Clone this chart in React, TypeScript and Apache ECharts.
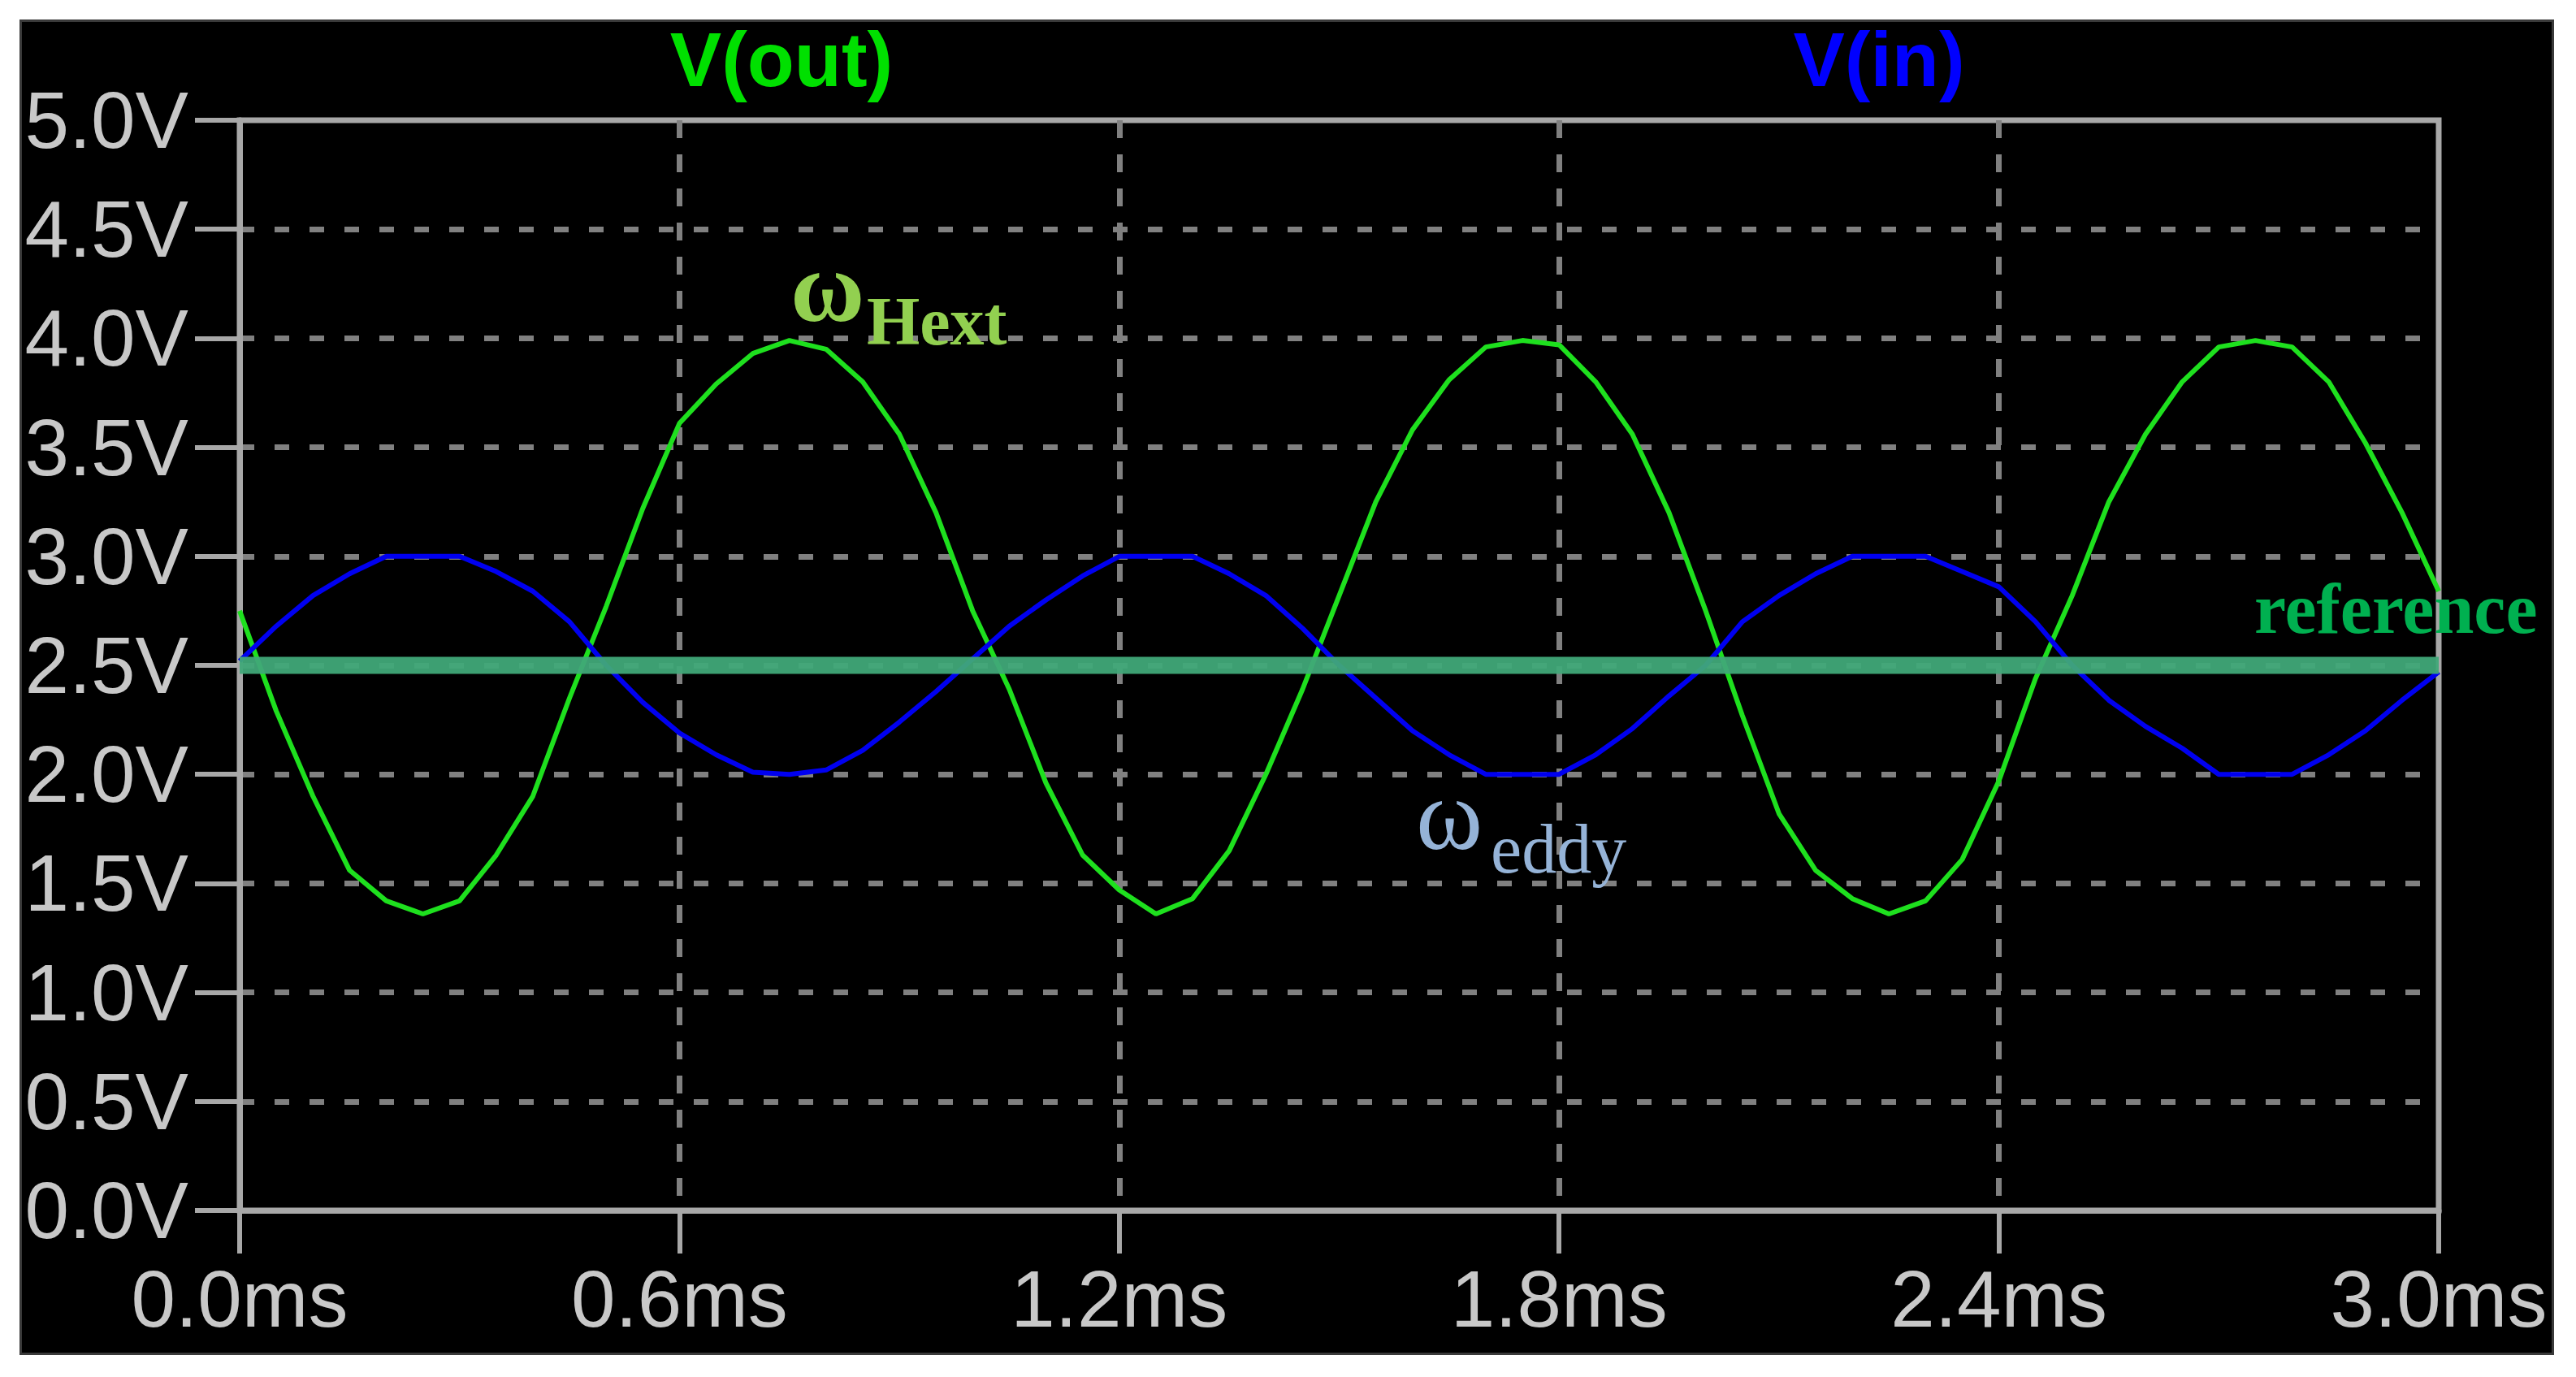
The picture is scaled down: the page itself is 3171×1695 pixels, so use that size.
import React, { useEffect, useRef } from "react";
import * as echarts from "echarts";

// Time axis (ms)
const timeMs = [
  0.0, 0.05, 0.1, 0.15, 0.2, 0.25, 0.3, 0.35, 0.4, 0.45,
  0.5, 0.55, 0.6, 0.65, 0.7, 0.75, 0.8, 0.85, 0.9, 0.95,
  1.0, 1.05, 1.1, 1.15, 1.2, 1.25, 1.3, 1.35, 1.4, 1.45,
  1.5, 1.55, 1.6, 1.65, 1.7, 1.75, 1.8, 1.85, 1.9, 1.95,
  2.0, 2.05, 2.1, 2.15, 2.2, 2.25, 2.3, 2.35, 2.4, 2.45,
  2.5, 2.55, 2.6, 2.65, 2.7, 2.75, 2.8, 2.85, 2.9, 2.95,
  3.0,
];

// V(in) – blue trace (V)
const vIn = [
  2.52, 2.68, 2.82, 2.92, 3.0, 3.0, 3.0, 2.93, 2.84, 2.7,
  2.5, 2.33, 2.19, 2.09, 2.01, 2.0, 2.02, 2.11, 2.24, 2.38,
  2.53, 2.68, 2.8, 2.91, 3.0, 3.0, 3.0, 2.92, 2.82, 2.67,
  2.5, 2.35, 2.2, 2.09, 2.0, 2.0, 2.0, 2.09, 2.21, 2.36,
  2.5, 2.7, 2.82, 2.92, 3.0, 3.0, 3.0, 2.93, 2.86, 2.7,
  2.5, 2.34, 2.22, 2.12, 2.0, 2.0, 2.0, 2.09, 2.2, 2.34,
  2.47,
];

// V(out) – green trace (V)
const vOut = [
  2.75, 2.29, 1.9, 1.56, 1.42, 1.36, 1.42, 1.63, 1.9, 2.35,
  2.77, 3.22, 3.61, 3.79, 3.93, 3.99, 3.95, 3.8, 3.56, 3.2,
  2.75, 2.39, 1.96, 1.63, 1.47, 1.36, 1.43, 1.65, 2.0, 2.39,
  2.82, 3.25, 3.58, 3.81, 3.96, 3.99, 3.97, 3.8, 3.56, 3.2,
  2.75, 2.27, 1.82, 1.56, 1.43, 1.36, 1.42, 1.61, 1.97, 2.44,
  2.82, 3.25, 3.56, 3.8, 3.96, 3.99, 3.96, 3.8, 3.52, 3.2,
  2.84,
];

// Reference level (V) and its time span (ms)
const referenceLevel = 2.5;
const referenceSpan = [0.0, 3.0];

const seriesNames = ["V(out)", "V(in)"];

const W = 3171;
const H = 1695;

export default function App() {
  const ref = useRef<HTMLDivElement | null>(null);

  useEffect(() => {
    if (!ref.current) return;
    const chart = echarts.init(ref.current, undefined, { renderer: "svg" });

    const outData = timeMs.map((t, i) => [t, vOut[i]]);
    const inData = timeMs.map((t, i) => [t, vIn[i]]);
    const refData = referenceSpan.map((t) => [t, referenceLevel]);

    const axisColor = "#a8a8a8";
    const gridColor = "#808080";
    const labelColor = "#c8c8c8";

    chart.setOption({
      animation: false,
      backgroundColor: "transparent",
      grid: {
        left: 295,
        right: W - 3002,
        top: 148,
        bottom: H - 1490,
        show: true,
        borderColor: axisColor,
        borderWidth: 7,
        backgroundColor: "transparent",
      },
      xAxis: {
        type: "value",
        min: 0,
        max: 3,
        interval: 0.6,
        axisLine: { show: true, onZero: false, lineStyle: { color: axisColor, width: 7 } },
        axisTick: { show: true, length: 53, lineStyle: { color: axisColor, width: 6 } },
        axisLabel: {
          formatter: (v: number) => v.toFixed(1) + "ms",
          color: labelColor,
          fontSize: 98,
          fontFamily: "Liberation Sans",
          margin: 60,
        },
        splitLine: {
          show: true,
          showMinLine: false,
          showMaxLine: false,
          lineStyle: { color: gridColor, width: 7, type: [22, 20] },
        },
      },
      yAxis: {
        type: "value",
        min: 0,
        max: 5,
        interval: 0.5,
        axisLine: { show: true, onZero: false, lineStyle: { color: axisColor, width: 7 } },
        axisTick: { show: true, length: 55, lineStyle: { color: axisColor, width: 6 } },
        axisLabel: {
          formatter: (v: number) => v.toFixed(1) + "V",
          color: labelColor,
          fontSize: 98,
          fontFamily: "Liberation Sans",
          margin: 63,
        },
        splitLine: {
          show: true,
          showMinLine: false,
          showMaxLine: false,
          lineStyle: { color: gridColor, width: 7, type: [18, 25] },
        },
      },
      series: [
        {
          name: seriesNames[0],
          type: "line",
          data: outData,
          showSymbol: false,
          symbol: "none",
          lineStyle: { color: "#1ee01e", width: 6 },
          z: 3,
        },
        {
          name: seriesNames[1],
          type: "line",
          data: inData,
          showSymbol: false,
          symbol: "none",
          lineStyle: { color: "#0000f0", width: 6 },
          z: 3,
        },
        {
          name: "reference",
          type: "line",
          data: refData,
          showSymbol: false,
          symbol: "none",
          lineStyle: { color: "#40a878", width: 21, opacity: 0.95 },
          z: 4,
        },
      ],
      graphic: [
        {
          type: "text",
          x: 962,
          y: 73,
          z: 100,
          style: {
            text: seriesNames[0],
            fill: "#00e000",
            fontSize: 95,
            fontWeight: "bold",
            fontFamily: "Liberation Sans",
            align: "center",
            verticalAlign: "middle",
          },
        },
        {
          type: "text",
          x: 2313,
          y: 73,
          z: 100,
          style: {
            text: seriesNames[1],
            fill: "#0000ff",
            fontSize: 95,
            fontWeight: "bold",
            fontFamily: "Liberation Sans",
            align: "center",
            verticalAlign: "middle",
          },
        },
        {
          type: "text",
          x: 973,
          y: 353,
          z: 100,
          style: {
            text: "ω",
            fill: "#92d050",
            fontSize: 125,
            fontWeight: "bold",
            fontFamily: "Liberation Serif",
            align: "left",
            verticalAlign: "middle",
          },
        },
        {
          type: "text",
          x: 1067,
          y: 395,
          z: 100,
          style: {
            text: "Hext",
            fill: "#92d050",
            fontSize: 84,
            fontWeight: "bold",
            fontFamily: "Liberation Serif",
            align: "left",
            verticalAlign: "middle",
          },
        },
        {
          type: "text",
          x: 1743,
          y: 1003,
          z: 100,
          style: {
            text: "ω",
            fill: "#95b3d7",
            fontSize: 125,
            fontFamily: "Liberation Serif",
            align: "left",
            verticalAlign: "middle",
          },
        },
        {
          type: "text",
          x: 1835,
          y: 1045,
          z: 100,
          style: {
            text: "eddy",
            fill: "#95b3d7",
            fontSize: 86,
            fontFamily: "Liberation Serif",
            align: "left",
            verticalAlign: "middle",
          },
        },
        {
          type: "text",
          x: 2775,
          y: 749,
          z: 100,
          style: {
            text: "reference",
            fill: "#00b050",
            fontSize: 88,
            fontWeight: "bold",
            fontFamily: "Liberation Serif",
            align: "left",
            verticalAlign: "middle",
          },
        },
      ],
    });

    return () => {
      chart.dispose();
    };
  }, []);

  return (
    <div
      style={{
        position: "absolute",
        left: 0,
        top: 0,
        width: W,
        height: H,
        background: "#ffffff",
        overflow: "hidden",
      }}
    >
      <div
        style={{
          position: "absolute",
          left: 24,
          top: 24,
          width: 3120,
          height: 1644,
          background: "#000000",
          border: "3px solid #3a3a3a",
          boxSizing: "border-box",
        }}
      />
      <div
        ref={ref}
        style={{ position: "absolute", left: 0, top: 0, width: W, height: H }}
      />
    </div>
  );
}
